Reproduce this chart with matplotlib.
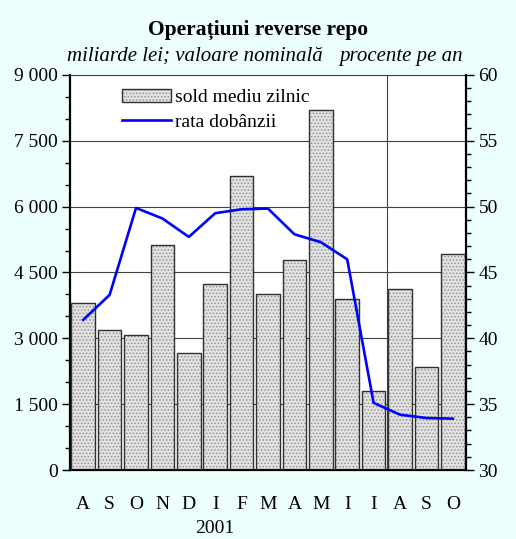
import matplotlib
matplotlib.use("Agg")
import matplotlib.pyplot as plt
from matplotlib.patches import Patch
from matplotlib.lines import Line2D
from matplotlib.legend_handler import HandlerTuple
from matplotlib.ticker import MultipleLocator, FuncFormatter
import matplotlib.transforms as mtransforms

plt.rcParams['font.family'] = ['Liberation Serif', 'DejaVu Serif']
plt.rcParams['hatch.linewidth'] = 0.7

months = ['A', 'S', 'O', 'N', 'D', 'I', 'F', 'M', 'A', 'M', 'I', 'I', 'A', 'S', 'O']
sold = [3800, 3190, 3070, 5120, 2670, 4230, 6690, 4020, 4780, 8200, 3900, 1800, 4130, 2340, 4910]
rata = [41.4, 43.3, 49.9, 49.1, 47.7, 49.5, 49.8, 49.85, 47.9, 47.3, 46.0, 35.1, 34.2, 33.95, 33.9]

bg = '#edfffc'
fs = 14
fig = plt.figure(figsize=(5.16, 5.39), dpi=100, facecolor=bg)
ax = fig.add_axes([0.1357, 0.128, 0.7674, 0.733])
ax.set_facecolor('white')
x = list(range(len(months)))

# bars: hatched fill plus separate outline (hatch colour follows edgecolor)
ax.bar(x, sold, width=0.9, color='#e2e2e2', edgecolor='#929292', hatch='.....', linewidth=0, zorder=2)
ax.bar(x, sold, width=0.9, fill=False, edgecolor='#303030', linewidth=1.0, zorder=3)

ax.set_xlim(-0.5, len(months) - 0.5)
ax.set_ylim(0, 9000)
ax.yaxis.set_major_locator(MultipleLocator(1500))
ax.yaxis.set_minor_locator(MultipleLocator(500))
ax.yaxis.set_major_formatter(FuncFormatter(lambda v, p: f"{int(v):,}".replace(',', ' ')))
ax.grid(axis='y', color='#404040', linewidth=0.8, zorder=1)
ax.set_axisbelow(True)
ax.axvline(11.5, color='#404040', linewidth=0.8, zorder=1)

ax.set_xticks(x)
ax.set_xticklabels(months)
ax.tick_params(axis='x', length=0, pad=19, labelsize=fs)
ax.tick_params(axis='y', which='major', direction='out', length=6, width=1, labelsize=fs, pad=3)
ax.tick_params(axis='y', which='minor', direction='out', length=3.5, width=1)

for s in ['left', 'bottom']:
    ax.spines[s].set_linewidth(1.6)
ax.spines['top'].set_linewidth(0.8)
ax.spines['top'].set_color('#404040')
ax.spines['right'].set_visible(False)

ax2 = ax.twinx()
ax2.plot(x, rata, color='#0000ff', linewidth=1.9, zorder=5)
ax2.set_ylim(30, 60)
ax2.yaxis.set_major_locator(MultipleLocator(5))
ax2.yaxis.set_minor_locator(MultipleLocator(1))
ax2.tick_params(axis='y', which='major', direction='out', length=6, width=1, labelsize=fs, pad=3)
ax2.tick_params(axis='y', which='minor', direction='out', length=3.5, width=1)
ax2.spines['right'].set_linewidth(1.6)
for s in ['left', 'top', 'bottom']:
    ax2.spines[s].set_visible(False)

trans = mtransforms.blended_transform_factory(ax.transData, ax.transAxes)
ax.text(5, -0.147, '2001', transform=trans, ha='center', va='center', fontsize=fs)

h_bar = (Patch(facecolor='#e2e2e2', edgecolor='#929292', hatch='.....', linewidth=0),
         Patch(fill=False, edgecolor='#303030', linewidth=1.0))
h_line = Line2D([], [], color='#0000ff', linewidth=1.9)
ax2.legend([h_bar, h_line], ['sold mediu zilnic', 'rata dobânzii'],
           handler_map={tuple: HandlerTuple(ndivide=1, pad=0)},
           loc='upper left', bbox_to_anchor=(0.098, 1.0), frameon=False,
           fontsize=fs, handlelength=2.5, handleheight=0.7, handletextpad=0.2,
           labelspacing=0.35, borderaxespad=0.3)

fig.text(0.5, 0.944, 'Operațiuni reverse repo', ha='center', va='center',
         fontsize=15.5, fontweight='bold')
fig.text(0.378, 0.896, 'miliarde lei; valoare nominală', ha='center', va='center',
         fontsize=15, style='italic')
fig.text(0.777, 0.896, 'procente pe an', ha='center', va='center',
         fontsize=15, style='italic')

fig.savefig('out.png', dpi=100, facecolor=bg)
